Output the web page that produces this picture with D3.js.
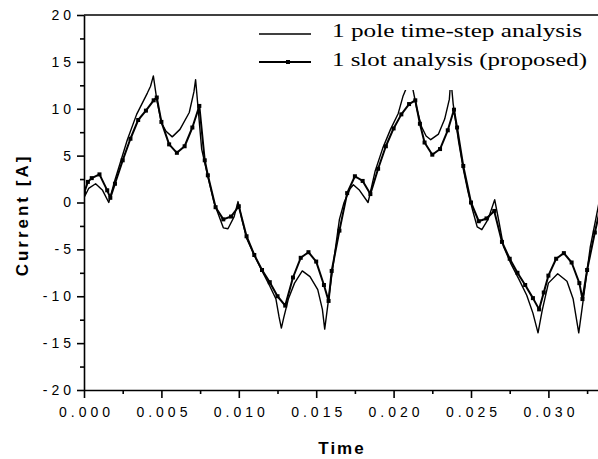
<!DOCTYPE html>
<html>
<head>
<meta charset="utf-8">
<script src="https://cdn.jsdelivr.net/npm/d3@7"></script>
<style>
  html, body { margin: 0; padding: 0; background: #fff; }
  svg { display: block; }
  .tick text { font-family: "Liberation Sans", Arial, sans-serif; font-size: 14px; letter-spacing: 4px; fill: #000; }
</style>
</head>
<body>
<svg id="chart" width="598" height="459"></svg>
<script>
// Phase current of the machine over two electrical periods
const timePole = [0, 0.0003, 0.00075, 0.0012, 0.0016, 0.002, 0.0028, 0.0034, 0.0041, 0.0043, 0.00448, 0.0047,
  0.005, 0.0053, 0.0057, 0.0062, 0.0068, 0.0071, 0.00721, 0.0074, 0.0076, 0.008, 0.0084, 0.0086, 0.009, 0.0093,
  0.0097, 0.00995, 0.0102, 0.0105, 0.011, 0.0115, 0.012, 0.0124, 0.0126, 0.01275, 0.0129, 0.0132, 0.0136, 0.0141,
  0.0146, 0.0151, 0.0154, 0.01555, 0.0158, 0.0162, 0.0165, 0.0168, 0.0172, 0.0174, 0.0178, 0.01835, 0.0188, 0.0193,
  0.0198, 0.0203, 0.0206, 0.0211, 0.0215, 0.0218, 0.0221, 0.0224, 0.0229, 0.0233, 0.0236, 0.0237, 0.02385, 0.0242,
  0.0245, 0.0248, 0.0251, 0.0254, 0.0257, 0.0261, 0.02653, 0.0268, 0.0271, 0.0276, 0.0281, 0.0286, 0.029, 0.02933,
  0.0296, 0.03, 0.0306, 0.0312, 0.0316, 0.03196, 0.0322, 0.0327, 0.0332, 0.0336];
const currentPole = [0.5, 1.5, 2.0, 1.3, 0.0, 2.4, 6.7, 9.4, 11.7, 12.4, 13.5, 11.0,
  8.5, 7.6, 7.0, 7.8, 9.6, 11.8, 13.1, 9.5, 5.7, 2.8, 0.0, -0.9, -2.7, -2.8,
  -1.5, 0.1, -1.8, -3.8, -5.6, -7.3, -8.9, -10.3, -12.2, -13.4, -12.3, -10.3, -8.6, -7.3,
  -7.9, -9.3, -11.4, -13.5, -10.3, -5.4, -1.8, 0.0, 1.5, 1.9, 1.3, 0.0, 3.3, 5.8,
  7.8, 9.5, 11.3, 13.3, 10.0, 8.1, 7.1, 6.7, 7.3, 8.9, 11.0, 13.2, 10.5, 6.5,
  3.6, 1.2, -0.8, -2.6, -2.9, -1.8, 0.3, -2.0, -4.7, -6.6, -8.2, -9.9, -11.8, -13.9,
  -11.5, -8.6, -7.6, -8.4, -10.3, -13.9, -11.0, -4.8, -0.6, 3.0];

const timeSlot = [0, 0.00025, 0.0005, 0.001, 0.0015, 0.0017, 0.002, 0.0025, 0.003, 0.0035, 0.004, 0.0045, 0.0047,
  0.005, 0.0055, 0.006, 0.0065, 0.007, 0.00745, 0.0078, 0.008, 0.0085, 0.009, 0.0095, 0.01, 0.0105, 0.011, 0.0115,
  0.012, 0.0125, 0.013, 0.0135, 0.014, 0.0145, 0.015, 0.0155, 0.0158, 0.016, 0.0165, 0.017, 0.0175, 0.018, 0.0185,
  0.019, 0.0195, 0.02, 0.0205, 0.021, 0.0214, 0.0217, 0.022, 0.0225, 0.023, 0.0235, 0.0239, 0.0241, 0.0245, 0.025,
  0.0255, 0.026, 0.0265, 0.027, 0.0275, 0.028, 0.0285, 0.029, 0.0294, 0.0297, 0.03, 0.0305, 0.031, 0.0315, 0.032,
  0.0322, 0.0325, 0.033, 0.0335];
const currentSlot = [1.0, 2.2, 2.6, 3.0, 1.3, 0.5, 2.0, 4.5, 6.8, 8.8, 9.8, 10.9, 11.2,
  8.6, 6.2, 5.3, 6.0, 8.0, 10.3, 4.5, 2.9, -0.5, -1.8, -1.5, -0.4, -3.6, -5.6, -7.2,
  -8.5, -10.0, -11.0, -8.0, -5.9, -5.3, -6.3, -8.8, -10.5, -7.3, -3.0, 1.0, 2.8, 2.3, 0.9,
  3.6, 6.0, 7.9, 9.4, 10.5, 10.9, 8.4, 6.4, 5.1, 5.7, 7.7, 9.9, 8.0, 3.9, 0.0,
  -2.0, -1.7, -0.9, -4.2, -6.0, -7.5, -8.8, -10.2, -11.4, -9.6, -7.8, -6.0, -5.4, -6.4, -8.6,
  -10.3, -7.2, -3.2, 0.5];

const xTicks = [0, 0.005, 0.010, 0.015, 0.020, 0.025, 0.030];
const yTicks = [-20, -15, -10, -5, 0, 5, 10, 15, 20];
const legendLabels = ["1 pole time-step analysis", "1 slot analysis (proposed)"];

const svg = d3.select("#chart");
const W = 598, H = 459;
const plotLeft = 84, plotTop = 15, plotBottom = 390;

const x = d3.scaleLinear().domain([0, 0.035]).range([plotLeft, plotLeft + 7 * 77.4]);
const y = d3.scaleLinear().domain([-20, 20]).range([plotBottom, plotTop]);

svg.append("rect").attr("width", W).attr("height", H).attr("fill", "#fff");

svg.append("defs").append("clipPath").attr("id", "plot-clip")
  .append("rect").attr("x", plotLeft).attr("y", plotTop).attr("width", W - plotLeft).attr("height", plotBottom - plotTop);

const plot = svg.append("g").attr("clip-path", "url(#plot-clip)");

const line = d3.line().x(d => x(d[0])).y(d => y(d[1]));
const poleData = timePole.map((t, i) => [t, currentPole[i]]);
const slotData = timeSlot.map((t, i) => [t, currentSlot[i]]);

plot.append("path").datum(poleData).attr("d", line)
  .attr("fill", "none").attr("stroke", "#000").attr("stroke-width", 1.4).attr("stroke-linejoin", "round");
plot.append("path").datum(slotData).attr("d", line)
  .attr("fill", "none").attr("stroke", "#000").attr("stroke-width", 2).attr("stroke-linejoin", "round");
plot.selectAll("rect.mk").data(slotData).join("rect").attr("class", "mk")
  .attr("x", d => x(d[0]) - 2).attr("y", d => y(d[1]) - 2)
  .attr("width", 4).attr("height", 4).attr("fill", "#000");

// Legend sits on an opaque white box over the plot
const lg = svg.append("g");
lg.append("rect").attr("x", 255).attr("y", plotTop + 2).attr("width", W - 255).attr("height", 73).attr("fill", "#fff");
const legendRows = [{ y: 34, base: 37, marker: false, width: 250 }, { y: 62, base: 66, marker: true, width: 255 }];
legendRows.forEach((r, i) => {
  lg.append("line").attr("x1", 259).attr("x2", 311).attr("y1", r.y).attr("y2", r.y)
    .attr("stroke", "#000").attr("stroke-width", r.marker ? 1.8 : 1.3);
  if (r.marker) lg.append("rect").attr("x", 286).attr("y", r.y - 2).attr("width", 4).attr("height", 4).attr("fill", "#000");
  lg.append("text").attr("x", 332).attr("y", r.base)
    .attr("font-family", "'Liberation Serif', 'Times New Roman', serif").attr("font-size", 18)
    .attr("textLength", r.width).attr("lengthAdjust", "spacingAndGlyphs")
    .attr("fill", "#000").text(legendLabels[i]);
});

// Frame top line
svg.append("line").attr("x1", plotLeft).attr("x2", W).attr("y1", plotTop).attr("y2", plotTop)
  .attr("stroke", "#000").attr("stroke-width", 1.6);

// Axes
const minorX = d3.range(0, 0.0351, 0.0025).filter(v => Math.abs(v / 0.005 - Math.round(v / 0.005)) > 1e-6);
const minorY = d3.range(-17.5, 20, 5);

const xAxis = svg.append("g").attr("transform", `translate(0,${plotBottom})`)
  .call(d3.axisBottom(x).tickValues(xTicks).tickFormat(d3.format(".3f")).tickSize(8).tickSizeOuter(0).tickPadding(9));
svg.append("g").attr("transform", `translate(0,${plotBottom})`)
  .call(d3.axisBottom(x).tickValues(minorX).tickFormat("").tickSize(4).tickSizeOuter(0))
  .select(".domain").remove();
xAxis.selectAll(".tick text").attr("dx", 2);

const yAxis = svg.append("g").attr("transform", `translate(${plotLeft},0)`)
  .call(d3.axisLeft(y).tickValues(yTicks).tickFormat(d => String(d)).tickSize(7).tickSizeOuter(0).tickPadding(6));
svg.append("g").attr("transform", `translate(${plotLeft},0)`)
  .call(d3.axisLeft(y).tickValues(minorY).tickFormat("").tickSize(4).tickSizeOuter(0))
  .select(".domain").remove();
yAxis.selectAll(".tick text").attr("dx", 4);

svg.selectAll(".domain, .tick line").attr("stroke", "#000").attr("stroke-width", 1.6);

// Axis titles
svg.append("text").attr("x", 342).attr("y", 454).attr("text-anchor", "middle")
  .attr("font-family", "'Liberation Sans', Arial, sans-serif").attr("font-weight", "bold")
  .attr("font-size", 17).attr("letter-spacing", 2).text("Time");
svg.append("text").attr("transform", "translate(28,215) rotate(-90)").attr("text-anchor", "middle")
  .attr("font-family", "'Liberation Sans', Arial, sans-serif").attr("font-weight", "bold")
  .attr("font-size", 17).attr("letter-spacing", 3).text("Current [A]");
</script>
</body>
</html>
